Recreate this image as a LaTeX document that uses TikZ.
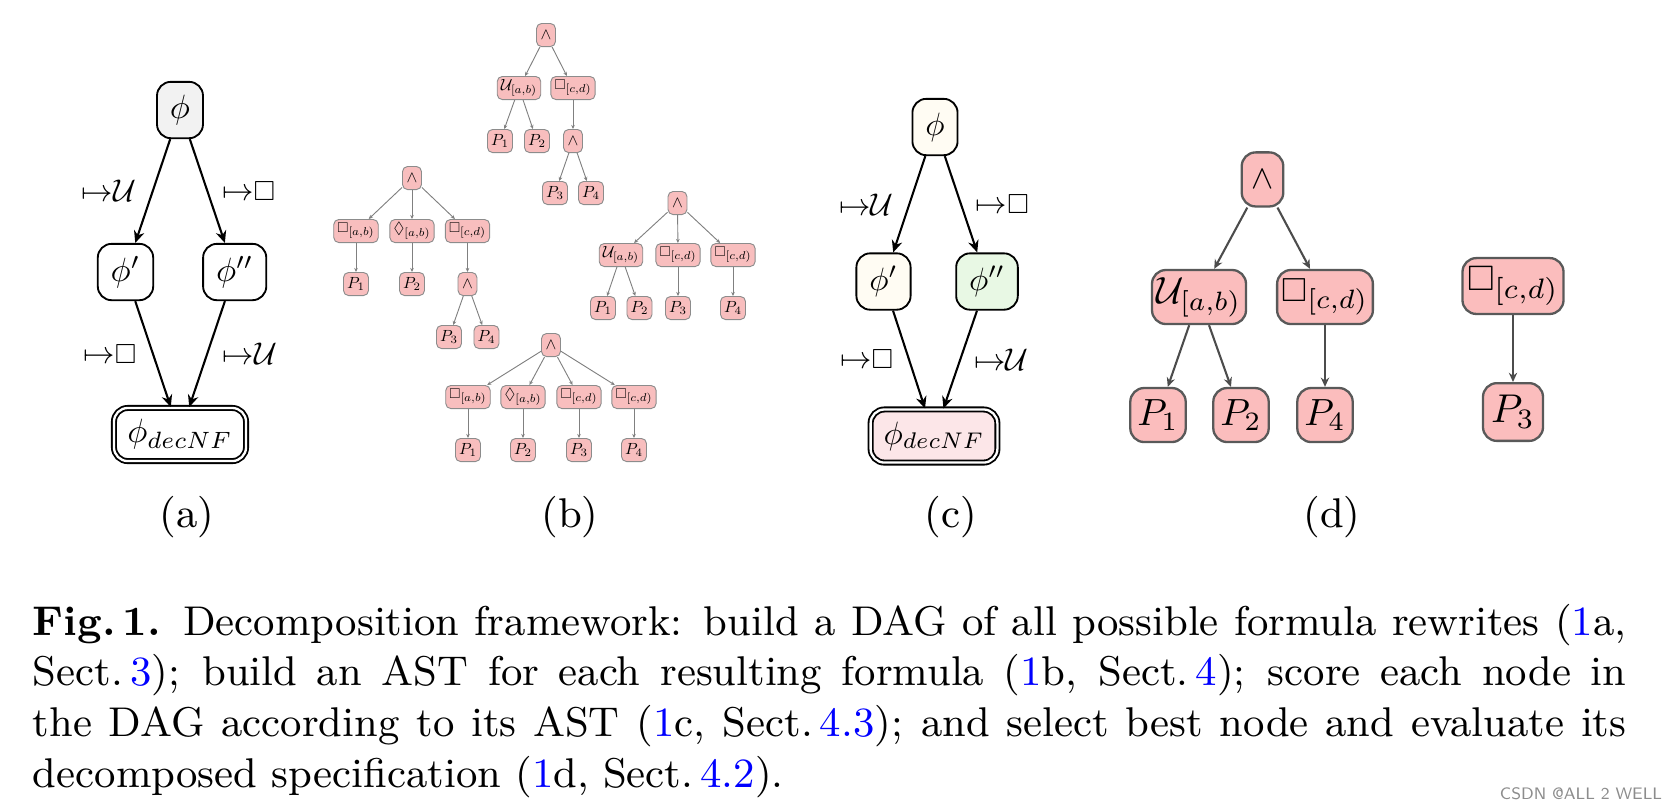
\RequirePackage{fix-cm}
\documentclass[tikz,border=0pt]{standalone}
\usepackage{amssymb}
\usetikzlibrary{arrows.meta}
\definecolor{astpink}{HTML}{FBBDBD}
\definecolor{minipink}{HTML}{F8BEBE}
\definecolor{decpink}{HTML}{FCE6E8}
\definecolor{leafgreen}{HTML}{E8F8E4}
\definecolor{cream}{HTML}{FFFCF3}
\definecolor{linkblue}{HTML}{0000FF}
\newcommand{\seclink}[1]{\textcolor{linkblue}{#1}}
\newcommand{\alw}{\mathord{\scalebox{0.88}{$\square$}}}
\newsavebox{\symbox}
\tikzset{sym factor/.store in=\symfactor, sym factor=1,
  symscaled/.style={font=\fontsize{10}{12}\selectfont,
    execute at begin node={\setbox\symbox=\hbox\bgroup},
    execute at end node={\egroup\scalebox{\symfactor}{\usebox\symbox}}}}

\begin{document}
\begin{tikzpicture}[x=0.2165pt,y=-0.2165pt,
  dagnode/.style={draw,rounded corners=3pt,inner xsep=2.8pt,inner ysep=0pt,
    minimum height=12.2pt,symscaled,sym factor=0.73},
  decnode/.style={dagnode,double,double distance=0.5pt,minimum width=28.6pt,minimum height=11.5pt},
  dagedge/.style={-{Stealth[length=2.6pt,width=2.3pt]},line width=0.45pt},
  dagtag/.style={inner sep=0pt,symscaled,sym factor=0.68},
  astnode/.style={draw=black!65,fill=astpink,line width=0.5pt,rounded corners=3pt,
    inner xsep=1pt,inner ysep=0pt,minimum height=11.7pt,minimum width=12pt,symscaled,sym factor=0.82},
  astedge/.style={-{Stealth[length=2pt,width=1.8pt]},draw=black!70,line width=0.45pt},
  miniast/.style={draw=black!45,fill=minipink,line width=0.2pt,rounded corners=1.1pt,
    inner xsep=0.8pt,inner ysep=0pt,minimum height=5pt,minimum width=4.1pt,symscaled,sym factor=0.35},
  miniedge/.style={-{Stealth[length=0.9pt,width=0.8pt]},draw=black!50,line width=0.2pt},
  sublabel/.style={font=\fontsize{9}{11}\selectfont}]
  \useasboundingbox (0,0) rectangle (1667,810);

  % (a) rewrite DAG
  \node (phiA) at (180,110) [dagnode,fill=black!5] {$\phi$};
  \node (phiA1) at (125.5,272) [dagnode] {$\phi'$};
  \node (phiA2) at (234.7,272) [dagnode] {$\phi''$};
  \node (decA) at (180,434.5) [decnode] {$\phi_{decNF}$};
  \draw[dagedge] (phiA) -- node[dagtag,left=3.4pt] {${\mapsto}\mathcal{U}$} (phiA1);
  \draw[dagedge] (phiA) -- node[dagtag,right=3pt] {${\mapsto}\alw$} (phiA2);
  \draw[dagedge] (phiA1) -- node[dagtag,left=3.4pt] {${\mapsto}\alw$} (decA);
  \draw[dagedge] (phiA2) -- node[dagtag,right=3.2pt] {${\mapsto}\mathcal{U}$} (decA);
  \node (labA) at (187,517) [sublabel] {(a)};

  % (b) one AST per rewrite
  % tree 1
  \node (b1r) at (546,35) [miniast] {$\wedge$};
  \node (b1u) at (519,88) [miniast] {$\mathcal{U}_{[a,b)}$};
  \node (b1g) at (573,88) [miniast] {$\alw_{[c,d)}$};
  \node (b1p1) at (500,141) [miniast] {$P_1$};
  \node (b1p2) at (537,141) [miniast] {$P_2$};
  \node (b1a) at (573,141) [miniast] {$\wedge$};
  \node (b1p3) at (555,193) [miniast] {$P_3$};
  \node (b1p4) at (591,193) [miniast] {$P_4$};
  \foreach \s/\t in {b1r/b1u,b1r/b1g,b1u/b1p1,b1u/b1p2,b1g/b1a,b1a/b1p3,b1a/b1p4}
    \draw[miniedge] (\s) -- (\t);

  % tree 2
  \node (b2r) at (412,178) [miniast] {$\wedge$};
  \node (b2g) at (356,231) [miniast] {$\alw_{[a,b)}$};
  \node (b2f) at (412,231) [miniast] {$\Diamond_{[a,b)}$};
  \node (b2h) at (467.5,231) [miniast] {$\alw_{[c,d)}$};
  \node (b2p1) at (356,284) [miniast] {$P_1$};
  \node (b2p2) at (412,284) [miniast] {$P_2$};
  \node (b2a) at (467.5,284) [miniast] {$\wedge$};
  \node (b2p3) at (449,337) [miniast] {$P_3$};
  \node (b2p4) at (486.5,337) [miniast] {$P_4$};
  \foreach \s/\t in {b2r/b2g,b2r/b2f,b2r/b2h,b2g/b2p1,b2f/b2p2,b2h/b2a,b2a/b2p3,b2a/b2p4}
    \draw[miniedge] (\s) -- (\t);

  % tree 3
  \node (b3r) at (677.5,203) [miniast] {$\wedge$};
  \node (b3u) at (621,255) [miniast] {$\mathcal{U}_{[a,b)}$};
  \node (b3g) at (678,255) [miniast] {$\alw_{[c,d)}$};
  \node (b3h) at (733,255) [miniast] {$\alw_{[c,d)}$};
  \node (b3p1) at (603,308) [miniast] {$P_1$};
  \node (b3p2) at (639.5,308) [miniast] {$P_2$};
  \node (b3p3) at (678,308) [miniast] {$P_3$};
  \node (b3p4) at (733,308) [miniast] {$P_4$};
  \foreach \s/\t in {b3r/b3u,b3r/b3g,b3r/b3h,b3u/b3p1,b3u/b3p2,b3g/b3p3,b3h/b3p4}
    \draw[miniedge] (\s) -- (\t);

  % tree 4
  \node (b4r) at (551,345) [miniast] {$\wedge$};
  \node (b4g) at (468,397) [miniast] {$\alw_{[a,b)}$};
  \node (b4f) at (523,397) [miniast] {$\Diamond_{[a,b)}$};
  \node (b4h) at (579,397) [miniast] {$\alw_{[c,d)}$};
  \node (b4k) at (634,397) [miniast] {$\alw_{[c,d)}$};
  \node (b4p1) at (468,450) [miniast] {$P_1$};
  \node (b4p2) at (523,450) [miniast] {$P_2$};
  \node (b4p3) at (579,450) [miniast] {$P_3$};
  \node (b4p4) at (634,450) [miniast] {$P_4$};
  \foreach \s/\t in {b4r/b4g,b4r/b4f,b4r/b4h,b4r/b4k,b4g/b4p1,b4f/b4p2,b4h/b4p3,b4k/b4p4}
    \draw[miniedge] (\s) -- (\t);
  \node (labB) at (570,517) [sublabel] {(b)};

  % (c) scored DAG
  \node (phiC) at (935,127) [dagnode,fill=cream,sym factor=0.7] {$\phi$};
  \node (phiC1) at (883.5,281.5) [dagnode,fill=cream,sym factor=0.7] {$\phi'$};
  \node (phiC2) at (987,281.5) [dagnode,fill=leafgreen,sym factor=0.7] {$\phi''$};
  \node (decC) at (934,436) [decnode,fill=decpink,sym factor=0.7,minimum width=27pt] {$\phi_{decNF}$};
  \draw[dagedge] (phiC) -- node[dagtag,left=3.2pt] {${\mapsto}\mathcal{U}$} (phiC1);
  \draw[dagedge] (phiC) -- node[dagtag,right=3pt] {${\mapsto}\alw$} (phiC2);
  \draw[dagedge] (phiC1) -- node[dagtag,left=3.2pt] {${\mapsto}\alw$} (decC);
  \draw[dagedge] (phiC2) -- node[dagtag,right=2.8pt] {${\mapsto}\mathcal{U}$} (decC);
  \node (labC) at (951,517) [sublabel] {(c)};

  % (d) chosen decomposition
  \node (andD) at (1262.5,179.4) [astnode,minimum width=9pt,sym factor=0.72] {$\wedge$};
  \node (untilD) at (1199,297) [astnode] {$\mathcal{U}_{[a,b)}$};
  \node (boxD) at (1325,297) [astnode] {$\alw_{[c,d)}$};
  \node (pD1) at (1158,415) [astnode] {$P_1$};
  \node (pD2) at (1241,415) [astnode] {$P_2$};
  \node (pD4) at (1325,415) [astnode] {$P_4$};
  \node (boxDr) at (1513,286) [astnode,minimum height=12.1pt,sym factor=0.87] {$\alw_{[c,d)}$};
  \node (pD3) at (1513,412) [astnode,minimum height=12.5pt,minimum width=13pt,sym factor=0.87] {$P_3$};
  \foreach \s/\t in {andD/untilD,andD/boxD,untilD/pD1,untilD/pD2,boxD/pD4,boxDr/pD3}
    \draw[astedge] (\s) -- (\t);
  \node (labD) at (1332,517) [sublabel] {(d)};

  % caption
  \node (caption) at (32,635) [anchor=base west,inner sep=0pt,text width=345pt,align=justify,
    font=\fontsize{9}{11}\selectfont]
    {\textbf{Fig.\,1.} Decomposition framework: build a DAG of all possible formula rewrites (\seclink{1}a,\linebreak
    Sect.\,\seclink{3}); build an AST for each resulting formula (\seclink{1}b, Sect.\,\seclink{4}); score each node in\linebreak
    the DAG according to its AST (\seclink{1}c, Sect.\,\seclink{4.3}); and select best node and evaluate its\linebreak
    decomposed specification (\seclink{1}d, Sect.\,\seclink{4.2}).};
  \node (mark) at (1581,794) [inner sep=0pt,text=black!45,font=\sffamily\fontsize{3.6}{4}\selectfont] {CSDN @ALL 2 WELL};
\end{tikzpicture}
\end{document}
